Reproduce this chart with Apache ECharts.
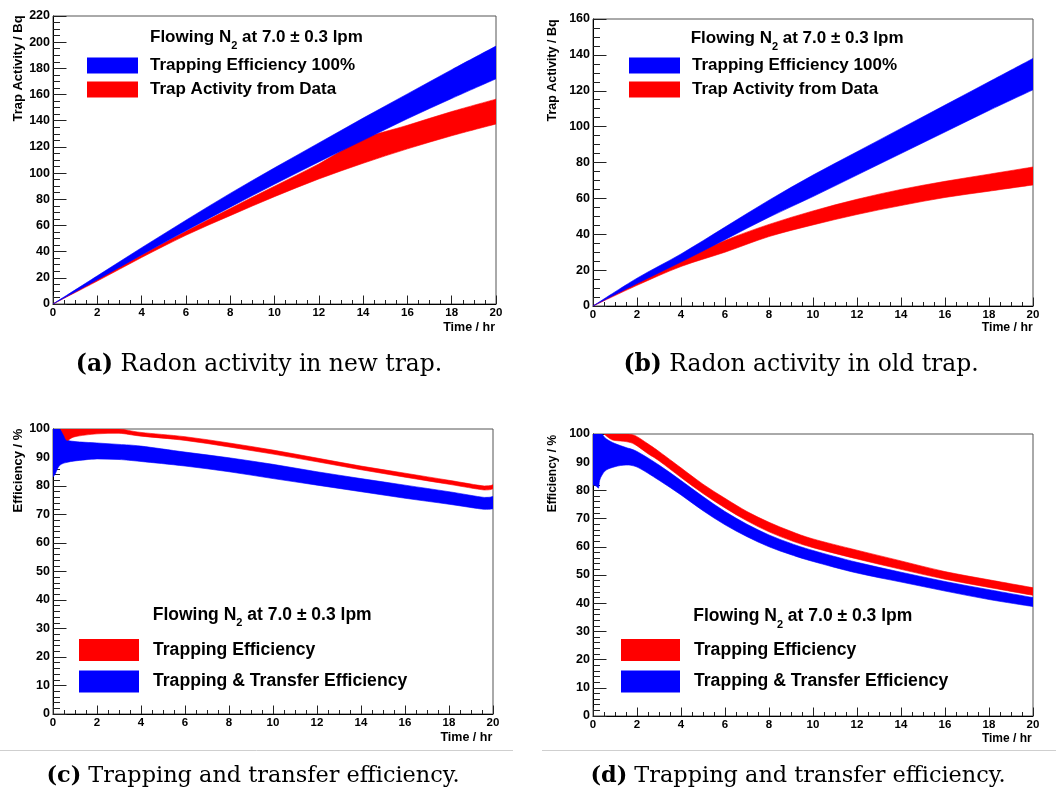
<!DOCTYPE html>
<html><head><meta charset="utf-8">
<script src="https://cdn.jsdelivr.net/npm/echarts@6/dist/echarts.min.js"></script>
<style>html,body{margin:0;padding:0;background:#fff}#c{width:1056px;height:792px}</style>
</head><body><div id="c"></div>
<script>
// ---------------- data ----------------
// Panel (a): Radon activity in new trap
const aTime   = [0, 2, 4, 6, 8, 10, 12, 14, 16, 18, 20];
const aFullLo = [0, 18.5, 37.5, 56, 74, 91.5, 108.5, 125, 141.5, 157, 172];
const aFullHi = [0, 21.5, 43, 64, 84.5, 104, 123, 142, 160.5, 179, 197];
const aDataLo = [0, 17.5, 35.5, 52.5, 67.5, 82, 95.5, 107.5, 118.5, 128.5, 137.5];
const aDataHi = [0, 19, 37.5, 55.5, 73, 90, 107, 126, 136.5, 147, 156.5];
// Panel (b): Radon activity in old trap
const bTime   = [0, 2, 4, 6, 8, 10, 12, 14, 16, 18, 20];
const bFullLo = [0, 12.5, 24.5, 37, 49.5, 61, 73, 85, 97, 109, 120.5];
const bFullHi = [0, 15.5, 29, 44, 59, 73, 86, 99, 112, 125, 138];
const bDataLo = [0, 11.5, 22, 30, 38.7, 45.2, 51, 56, 60.5, 64, 67.5];
const bDataHi = [0, 13.5, 25, 36.5, 45.5, 53, 59.5, 65, 69.5, 73.5, 77.5];
// Panel (c): efficiencies, new trap
const cTrapTime = [0.35, 0.5, 0.65, 1, 2, 3, 4, 6, 8, 10, 12, 14, 16, 18, 19.6, 20];
const cTrapLo   = [100, 97.8, 96.0, 97.3, 98.3, 98.5, 97.5, 96.0, 93.7, 91.2, 88.5, 85.7, 83.1, 80.6, 78.6, 79.0];
const cTrapHi   = [100, 100, 100, 100, 100, 100, 98.8, 97.3, 95.1, 92.6, 89.8, 87.0, 84.5, 82.0, 80.0, 80.4];
const cTransTime = [0, 0.1, 0.2, 0.3, 0.45, 0.65, 1, 2, 3, 4, 6, 8, 10, 12, 14, 16, 18, 19.6, 20];
const cTransLo   = [83.2, 84.2, 86.0, 87.2, 87.9, 88.3, 88.8, 89.5, 89.3, 88.6, 87.0, 85.0, 82.6, 80.3, 78.0, 75.7, 73.6, 71.8, 72.0];
const cTransHi   = [100, 100, 100, 100, 99.0, 96.3, 95.6, 95.1, 94.6, 94.0, 91.9, 89.9, 87.6, 85.0, 82.6, 80.3, 78.0, 76.0, 76.3];
// Panel (d): efficiencies, old trap
const dTrapTime = [0.5, 0.8, 1, 1.5, 1.9, 2.5, 3, 4, 5, 6, 7, 8, 9, 10, 12, 14, 16, 18, 20];
const dTrapLo   = [100, 98.2, 97.7, 97.3, 96.3, 93.0, 90.5, 84.6, 78.9, 73.8, 69.2, 65.3, 62.2, 59.7, 55.7, 52.0, 48.5, 45.6, 42.8];
const dTrapHi   = [100, 100, 100, 100, 99.5, 96.5, 93.8, 88.0, 82.2, 77.2, 72.5, 68.7, 65.5, 62.8, 58.8, 55.0, 51.2, 48.3, 45.5];
const dTransTime = [0, 0.15, 0.25, 0.3, 0.4, 0.6, 1, 1.5, 2, 3, 4, 5, 6, 7, 8, 9, 10, 12, 14, 16, 18, 20];
const dTransLo   = [82.0, 81.5, 80.8, 83.5, 85.3, 87.2, 88.4, 89.0, 88.3, 83.6, 78.4, 72.8, 67.8, 63.6, 60.0, 57.2, 54.8, 50.7, 47.5, 44.3, 41.3, 38.8];
const dTransHi   = [100, 100, 100, 100, 100, 98.3, 96.6, 95.2, 93.8, 89.0, 83.5, 77.8, 72.5, 68.0, 64.2, 61.2, 58.7, 54.5, 51.0, 47.7, 44.8, 42.0];

// text
const nameFull  = 'Trapping Efficiency 100%';
const nameData  = 'Trap Activity from Data';
const nameTrap  = 'Trapping Efficiency';
const nameTrans = 'Trapping & Transfer Efficiency';
const headerPre = 'Flowing N', headerSub = '2', headerPost = ' at 7.0 \u00b1 0.3 lpm';
const yTitleAB = 'Trap Activity / Bq';
const yTitleCD = 'Efficiency / %';
const xTitle = 'Time / hr';
const capTags  = ['(a)', '(b)', '(c)', '(d)'];
const capTexts = ['Radon activity in new trap.', 'Radon activity in old trap.',
                  'Trapping and transfer efficiency.', 'Trapping and transfer efficiency.'];
const xRange = [0, 20, 2];
const yRanges = [[0, 220, 20], [0, 160, 20], [0, 100, 10], [0, 100, 10]];

// ---------------- styling / layout ----------------
const SANS = "'Liberation Sans', Arial, Helvetica, sans-serif";
const SERIF = "'DejaVu Serif', serif";
const BLUE = '#0000ff', RED = '#ff0000';
const grids = [
  {left: 53,  top: 16,  width: 443, height: 288},
  {left: 593, top: 19,  width: 440, height: 287},
  {left: 53,  top: 429, width: 440, height: 285},
  {left: 593, top: 434, width: 440, height: 282}
];
const yMinorSplit = [4, 4, 5, 5];

// smooth (Catmull-Rom, monotone-clamped) path through pixel points
function curveTo(pts) {
  let d = '';
  const n = pts.length;
  for (let i = 0; i < n - 1; i++) {
    const p0 = pts[Math.max(i - 1, 0)], p1 = pts[i], p2 = pts[i + 1], p3 = pts[Math.min(i + 2, n - 1)];
    const lo = Math.min(p1[1], p2[1]), hi = Math.max(p1[1], p2[1]);
    const c1x = p1[0] + (p2[0] - p0[0]) / 6, c1y = Math.min(hi, Math.max(lo, p1[1] + (p2[1] - p0[1]) / 6));
    const c2x = p2[0] - (p3[0] - p1[0]) / 6, c2y = Math.min(hi, Math.max(lo, p2[1] - (p3[1] - p1[1]) / 6));
    d += 'C' + c1x.toFixed(2) + ',' + c1y.toFixed(2) + ' ' + c2x.toFixed(2) + ',' + c2y.toFixed(2) + ' ' + p2[0].toFixed(2) + ',' + p2[1].toFixed(2);
  }
  return d;
}

// A band (upper/lower edge) drawn as one filled path through the axis scales (api.coord).
function band(gi, name, color, xs, lo, hi) {
  const data = xs.map((x, i) => [x, lo[i], hi[i]]);
  return {
    type: 'custom', name: name, xAxisIndex: gi, yAxisIndex: gi, silent: true,
    color: color, itemStyle: {color: color},
    encode: {x: 0, y: [1, 2]},
    data: data,
    renderItem: function (params, api) {
      if (params.dataIndex !== 0) return null;
      const top = data.map(r => api.coord([r[0], r[2]]));
      const bot = data.map(r => api.coord([r[0], r[1]])).reverse();
      const pathData = 'M' + top[0][0] + ',' + top[0][1] + curveTo(top) +
        'L' + bot[0][0] + ',' + bot[0][1] + curveTo(bot) + 'Z';
      const cs = params.coordSys;
      return {
        type: 'path', shape: {pathData: pathData},
        style: {fill: color, stroke: color, lineWidth: 0.6},
        clipPath: {type: 'rect', shape: {x: cs.x, y: cs.y, width: cs.width, height: cs.height}}
      };
    }
  };
}

const series = [
  band(0, nameData, RED, aTime, aDataLo, aDataHi),
  band(0, nameFull, BLUE, aTime, aFullLo, aFullHi),
  band(1, nameData, RED, bTime, bDataLo, bDataHi),
  band(1, nameFull, BLUE, bTime, bFullLo, bFullHi),
  band(2, nameTrans, BLUE, cTransTime, cTransLo, cTransHi),
  band(2, nameTrap, RED, cTrapTime, cTrapLo, cTrapHi),
  band(3, nameTrans, BLUE, dTransTime, dTransLo, dTransHi),
  band(3, nameTrap, RED, dTrapTime, dTrapLo, dTrapHi)
];

const xAxis = grids.map((g, i) => ({
  gridIndex: i, type: 'value', min: xRange[0], max: xRange[1], interval: xRange[2],
  axisLine: {show: true, onZero: false, lineStyle: {color: '#000', width: 1}},
  axisTick: {show: true, inside: true, length: 8.5, lineStyle: {color: '#222'}},
  minorTick: {show: true, splitNumber: 4, length: 4, lineStyle: {color: '#222'}},
  splitLine: {show: false}, minorSplitLine: {show: false},
  axisLabel: {color: '#000', fontWeight: 'bold', fontSize: 11.5, fontFamily: SANS, margin: 3}
}));
const yAxis = grids.map((g, i) => ({
  gridIndex: i, type: 'value', min: yRanges[i][0], max: yRanges[i][1], interval: yRanges[i][2],
  axisLine: {show: true, onZero: false, lineStyle: {color: '#000', width: 1}},
  axisTick: {show: true, inside: true, length: 13.5, lineStyle: {color: '#222'}},
  minorTick: {show: true, splitNumber: yMinorSplit[i], length: 7, lineStyle: {color: '#222'}},
  splitLine: {show: false}, minorSplitLine: {show: false},
  axisLabel: {color: '#000', fontWeight: 'bold', fontSize: 12.5, fontFamily: SANS, margin: 3}
}));

function legend(left, top, w, h, gap, fs, pad, items) {
  return {
    left: left, top: top, orient: 'vertical', padding: 0, itemWidth: w, itemHeight: h, itemGap: gap,
    selectedMode: false, icon: 'rect',
    data: items.map(it => ({name: it[0], icon: 'rect', itemStyle: {color: it[1], opacity: 1, borderWidth: 0}})),
    textStyle: {fontSize: fs, fontWeight: 'bold', fontFamily: SANS, color: '#000', lineHeight: h, padding: [0, 0, 0, pad]}
  };
}
const legends = [
  legend(87, 57, 51, 16, 7, 17, 7, [[nameFull, BLUE], [nameData, RED]]),
  legend(629, 57, 51, 16, 7, 17, 7, [[nameFull, BLUE], [nameData, RED]]),
  legend(79, 639, 60, 22, 9.5, 17.6, 9, [[nameTrap, RED], [nameTrans, BLUE]]),
  legend(621, 639, 59, 22, 9.5, 17.6, 9, [[nameTrap, RED], [nameTrans, BLUE]])
];

function header(x, y, fs) {
  return {type: 'text', x: x, y: y, silent: true, style: {
    text: '{m|' + headerPre + '}{s|' + headerSub + '}{m|' + headerPost + '}',
    x: 0, y: 0, align: 'left', verticalAlign: 'top',
    rich: {
      m: {fontSize: fs, fontWeight: 'bold', fontFamily: SANS, fill: '#000'},
      s: {fontSize: 11, fontWeight: 'bold', fontFamily: SANS, fill: '#000', padding: [17, 0, 0, 0]}
    }}};
}
function yTitle(text, x, y, fs) {
  return {type: 'text', x: x, y: y, rotation: Math.PI / 2, silent: true, style: {
    text: text, x: 0, y: 0, align: 'center', verticalAlign: 'middle',
    font: 'bold ' + fs + 'px ' + SANS, fill: '#000'}};
}
function xTitleEl(x, y, fs) {
  return {type: 'text', x: x, y: y, silent: true, style: {
    text: xTitle, x: 0, y: 0, align: 'right', verticalAlign: 'middle',
    font: 'bold ' + fs + 'px ' + SANS, fill: '#000'}};
}
function caption(i, x, y, fs) {
  return {type: 'text', x: x, y: y, silent: true, style: {
    text: '{b|' + capTags[i] + '} ' + capTexts[i], x: 0, y: 0, align: 'center', verticalAlign: 'middle',
    fontSize: fs, fontFamily: SERIF, fill: '#000',
    rich: {b: {fontSize: fs, fontFamily: SERIF, fontWeight: 'bold', fill: '#000'}}}};
}

const graphic = [
  header(150, 23.5, 17), header(690.7, 24, 17), header(152.7, 600.7, 17.5), header(693.3, 602, 17.5),
  yTitle(yTitleAB, 18.5, 68.5, 13), yTitle(yTitleAB, 553, 70.5, 12.5),
  yTitle(yTitleCD, 18, 470.5, 13), yTitle(yTitleCD, 553, 473.5, 12),
  xTitleEl(495, 327.5, 12.5), xTitleEl(1032.7, 328, 12.3), xTitleEl(492.3, 737.7, 12.5), xTitleEl(1031.7, 738.3, 12),
  caption(0, 259, 365, 23.4), caption(1, 801, 365, 23.4), caption(2, 253, 776, 22.4), caption(3, 798, 776, 22.4),
  {type: 'line', silent: true, shape: {x1: 0, y1: 750.5, x2: 513, y2: 750.5}, style: {stroke: '#cfcfcf', lineWidth: 1}},
  {type: 'line', silent: true, shape: {x1: 542, y1: 750.5, x2: 1056, y2: 750.5}, style: {stroke: '#cfcfcf', lineWidth: 1}}
];

const chart = echarts.init(document.getElementById('c'), null, {renderer: 'canvas'});
chart.setOption({
  animation: false,
  backgroundColor: '#fff',
  grid: grids.map(g => Object.assign({show: true, borderColor: '#555', borderWidth: 1,
    backgroundColor: 'transparent', containLabel: false, outerBoundsMode: 'none'}, g)),
  xAxis: xAxis,
  yAxis: yAxis,
  legend: legends,
  series: series,
  graphic: graphic
});
</script>
</body></html>
